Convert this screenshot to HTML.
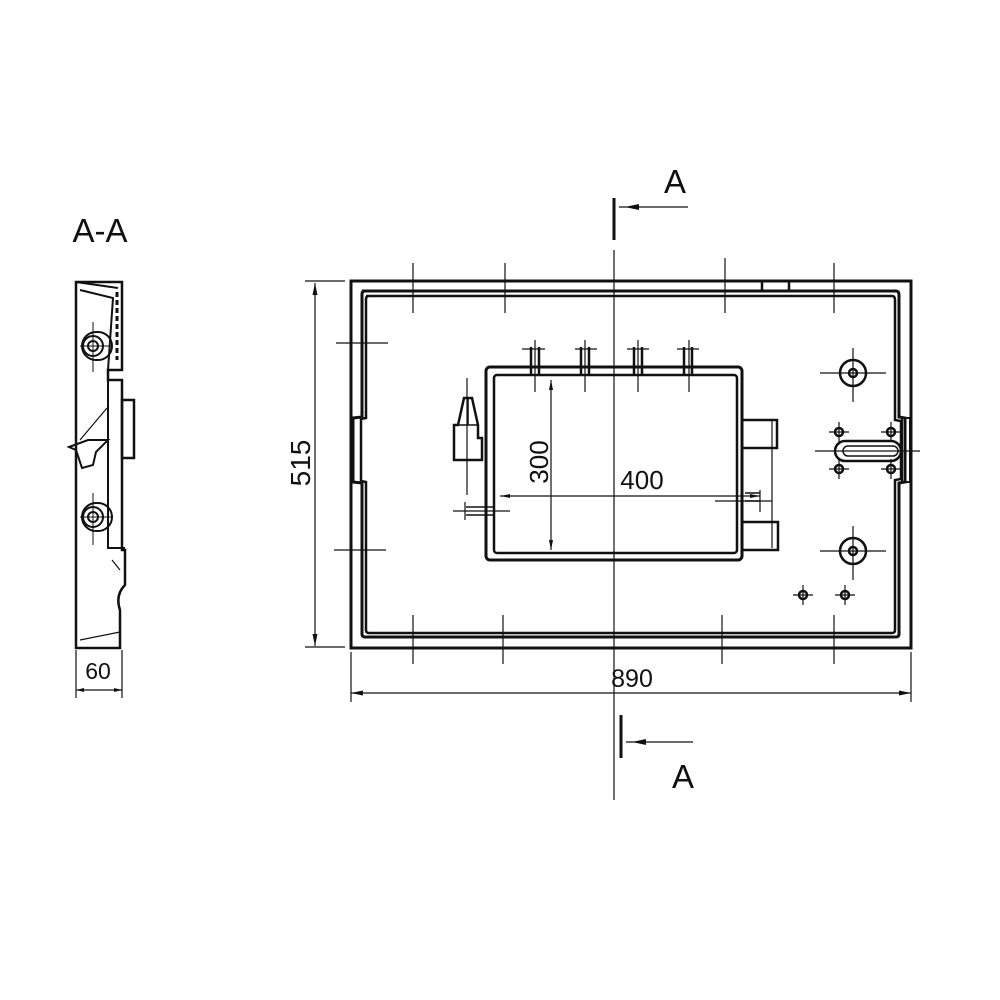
<!DOCTYPE html>
<html><head><meta charset="utf-8"><style>
html,body{margin:0;padding:0;background:#fff;}
svg{display:block;}
text{font-family:"Liberation Sans",sans-serif;fill:#111;}
</style></head><body>
<svg width="1000" height="1000" viewBox="0 0 1000 1000" xmlns="http://www.w3.org/2000/svg">
<g fill="none" stroke="#111" stroke-width="2.5">
<rect x="351" y="281" width="560" height="367" stroke-width="3"/>
<path d="M362 291 H896 Q899 291 899 295 V417 L905 418 V482 L899 483 V634 Q899 637 896 637 H365 Q362 637 362 634 V483 L353 482 V418 L362 417 V294 Q362 291 365 291 Z" stroke-width="3"/>
<path d="M366 296 H892 Q895 296 895 300 V420 L901 421 V479 L895 480 V630 Q895 633 892 633 H369 Q366 633 366 630 V482 L361 481 V419 L366 418 V299 Q366 296 369 296 Z" stroke-width="2.5"/>
<rect x="762" y="281" width="27" height="10"/>
<rect x="902" y="418" width="8" height="64" stroke-width="2"/>
<rect x="486" y="367" width="256" height="193" rx="4" stroke-width="3"/>
<rect x="494" y="375" width="243" height="178" rx="3" stroke-width="2.5"/>
<g stroke-width="2.5">
<path d="M531 375 V347 M539 375 V347"/><path d="M581 375 V347 M589 375 V347"/>
<path d="M634 375 V347 M642 375 V347"/><path d="M684 375 V347 M692 375 V347"/>
</g>
<rect x="742" y="420" width="35" height="28"/>
<rect x="742" y="522" width="36" height="28"/>
<path d="M462 460 H482 V438 H478 V425 L472 398 H464 L458 425 H454 V460 Z"/>
<path d="M458 425 H478 M468 398 V425" stroke-width="1.5"/>
<path d="M466 507 H494 M466 515 H494" stroke-width="1.5"/>
<path d="M745 493 H760 M745 501 H760" stroke-width="1.5"/>
<circle cx="853" cy="373" r="13"/><circle cx="853" cy="373" r="4"/>
<circle cx="853" cy="551" r="13"/><circle cx="853" cy="551" r="4"/>
<circle cx="839" cy="432" r="4"/><circle cx="891" cy="432" r="4"/>
<circle cx="839" cy="469" r="4"/><circle cx="891" cy="469" r="4"/>
<circle cx="803" cy="595" r="4"/><circle cx="845" cy="595" r="4"/>
<rect x="835" y="441" width="66" height="20" rx="10"/>
<rect x="843" y="446" width="55" height="10" rx="5" stroke-width="1.5"/>
</g>
<g stroke="#111" stroke-width="1.2">
<path d="M614 250 V800"/>
<path d="M413 263 V313 M505 263 V313 M725 258 V313 M834 263 V313"/>
<path d="M413 615 V664 M503 615 V664 M722 615 V664 M834 615 V664"/>
<path d="M336 343 H388 M334 550 H386"/>
<path d="M820 373 H886 M853 348 V402 M820 551 H886 M853 526 V580"/>
<path d="M829 432 H849 M839 422 V442 M881 432 H901 M891 422 V442 M829 469 H849 M839 459 V479 M881 469 H901 M891 459 V479"/>
<path d="M793 595 H813 M803 585 V605 M835 595 H855 M845 585 V605"/>
<path d="M815 451 H920"/>
<path d="M772 420 V548"/>
<path d="M522 349 H545 M575 349 H597 M627 349 H649 M677 349 H699"/>
<path d="M535 340 V392 M585 340 V392 M638 340 V392 M689 340 V392"/>
<path d="M467 378 V495"/>
<path d="M453 511 H510 M465 502 V520 M715 501 H772 M760 490 V512"/>
<path d="M551 380 V550 M500 496 H760"/>
</g>
<g fill="#111">
<path d="M551 380 l-2 10 h4 Z M551 550 l-2 -10 h4 Z M500 496 l10 -2 v4 Z M760 496 l-10 -2 v4 Z"/>
<path d="M315 283 l-2.5 12 h5 Z M315 646 l-2.5 -12 h5 Z M351 693 l12 -2.5 v5 Z M911 693 l-12 -2.5 v5 Z"/>
<path d="M625 207 l14 -3 v6 Z M632 742 l14 -3 v6 Z"/>
<path d="M76 690 l8 -2 v4 Z M122 690 l-8 -2 v4 Z"/>
</g>
<g stroke="#111" stroke-width="1.2">
<path d="M315 283 V646 M305 281 H345 M305 647 H345"/>
<path d="M351 652 V702 M911 652 V702 M351 693 H911"/>
<path d="M619 207 H688 M626 742 H693"/>
<path d="M76 650 V698 M122 650 V698 M76 690 H122"/>
</g>
<path d="M614 198 V240 M621 715 V758" stroke="#111" stroke-width="3"/>
<text x="675" y="193" font-size="33" text-anchor="middle">A</text>
<text x="683" y="788" font-size="33" text-anchor="middle">A</text>
<text x="100" y="242" font-size="33" text-anchor="middle">A-A</text>
<text x="642" y="489" font-size="26" text-anchor="middle">400</text>
<text x="632" y="687" font-size="25" text-anchor="middle">890</text>
<text x="98" y="679" font-size="23" text-anchor="middle">60</text>
<text transform="translate(548 462) rotate(-90)" font-size="26" text-anchor="middle">300</text>
<text transform="translate(310 463) rotate(-90)" font-size="28" text-anchor="middle">515</text>
<g fill="none" stroke="#111" stroke-width="2.5">
<path d="M76 282 H122 V370 H108 V380 H122 V550 H125 V585 Q115 595 120 610 V648 H76 Z"/>
<path d="M76 282 L118 288 M80 290 L113 298 L108 370" stroke-width="2"/>
<rect x="122" y="400" width="12" height="58"/>
<path d="M108 380 V548 H125" stroke-width="2"/>
<path d="M76 450 L69 447 L88 440 L108 440 L96 452 L93 465 L82 468 L76 450" stroke-width="2"/>
<path d="M80 440 L107 408" stroke-width="1.2"/>
<path d="M117 292 V360" stroke-width="3" stroke-dasharray="5 3"/>
<path d="M80 640 L120 632 M112 560 L120 570" stroke-width="1.2"/>
<rect x="82" y="332" width="30" height="28" rx="14" stroke-width="2"/>
<circle cx="93" cy="346" r="10" stroke-width="2"/><circle cx="93" cy="346" r="5" stroke-width="2"/>
<rect x="82" y="503" width="30" height="28" rx="14" stroke-width="2"/>
<circle cx="93" cy="517" r="10" stroke-width="2"/><circle cx="93" cy="517" r="5" stroke-width="2"/>
</g>
<g stroke="#111" stroke-width="1">
<path d="M93 322 V372 M80 346 H113 M93 493 V545 M80 517 H113"/>
</g>
</svg>
</body></html>
